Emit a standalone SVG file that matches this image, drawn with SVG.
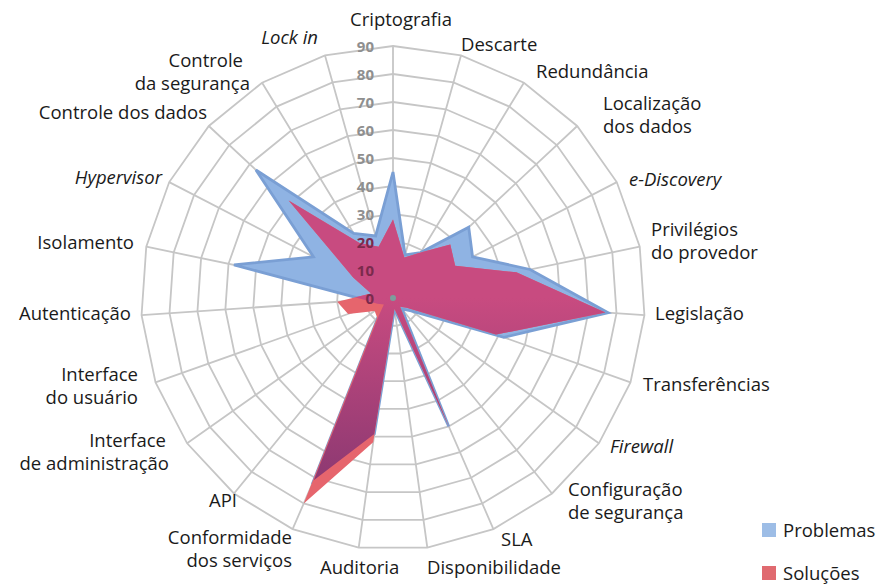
<svg xmlns="http://www.w3.org/2000/svg" xmlns:xlink="http://www.w3.org/1999/xlink" width="895" height="585" viewBox="0 0 895 585">
<style>
.lbl{font-family:"Open Sans","Noto Sans","Liberation Sans",sans-serif;font-size:18.5px;fill:#1a1a1a}
.it{font-style:italic}
.e{text-anchor:end}
.m{text-anchor:middle}
.tick{font-family:"Open Sans","Liberation Sans",sans-serif;font-size:15px;font-weight:bold;fill:#8f8f8f;text-anchor:end}
.tick.in{fill:#7a2a4c}
.grid{fill:none;stroke:#c6c6c6;stroke-width:1.8;vector-effect:non-scaling-stroke}
</style>
<defs>
<polygon id="ring" class="grid" points="0,-1 0.2698,-0.9629 0.5196,-0.8544 0.7308,-0.6826 0.8879,-0.4601 0.9791,-0.2035 0.9977,0.0682 0.9423,0.3349 0.8170,0.5767 0.6311,0.7757 0.3984,0.9172 0.1362,0.9907 -0.1362,0.9907 -0.3984,0.9172 -0.6311,0.7757 -0.8170,0.5767 -0.9423,0.3349 -0.9977,0.0682 -0.9791,-0.2035 -0.8879,-0.4601 -0.7308,-0.6826 -0.5196,-0.8544 -0.2698,-0.9629"/>
<polygon id="blueShape" points="0,-45 4.32,-15.41 9.87,-16.23 27.04,-25.26 28.41,-14.72 48.96,-10.18 76.82,5.25 39.58,14.07 6.54,4.61 3.16,3.88 19.92,45.86 0.54,3.96 -6.67,48.54 -28.29,65.12 -5.05,6.21 -3.27,2.31 -5.65,2.01 -9.98,0.68 -56.79,-11.80 -28.41,-14.72 -48.96,-45.73 -14.03,-23.07 -6.21,-22.15"/>
<polygon id="redShape" points="0,-28 4.05,-14.44 9.87,-16.23 20.46,-19.11 22.20,-11.50 44.06,-9.16 75.83,5.18 36.75,13.06 4.90,3.46 2.52,3.10 20.32,46.78 0.54,3.96 -7.08,51.52 -31.87,73.38 -5.68,6.98 -6.54,4.61 -16.02,5.69 -19.95,1.36 -7.83,-1.63 -14.21,-7.36 -37.27,-34.81 -11.95,-19.65 -5.13,-18.30"/>
<clipPath id="clipBlue"><use xlink:href="#blueShape"/></clipPath>
<linearGradient id="overlap" gradientUnits="userSpaceOnUse" x1="0" y1="0" x2="0" y2="75">
<stop offset="0" stop-color="#c84b80"/>
<stop offset="1" stop-color="#843670"/>
</linearGradient>
</defs>

<g id="grid">
<use xlink:href="#ring" transform="translate(393 298) scale(28)"/>
<use xlink:href="#ring" transform="translate(393 298) scale(56)"/>
<use xlink:href="#ring" transform="translate(393 298) scale(84)"/>
<use xlink:href="#ring" transform="translate(393 298) scale(112)"/>
<use xlink:href="#ring" transform="translate(393 298) scale(140)"/>
<use xlink:href="#ring" transform="translate(393 298) scale(168)"/>
<use xlink:href="#ring" transform="translate(393 298) scale(196)"/>
<use xlink:href="#ring" transform="translate(393 298) scale(224)"/>
<use xlink:href="#ring" transform="translate(393 298) scale(252)"/>
<path transform="translate(393 298)" fill="none" stroke="#c6c6c6" stroke-width="1.8" d="M0,0L0,-252M0,0L68,-242.6M0,0L130.9,-215.3M0,0L184.2,-172M0,0L223.8,-115.9M0,0L246.7,-51.3M0,0L251.4,17.2M0,0L237.5,84.4M0,0L205.9,145.3M0,0L159,195.5M0,0L100.4,231.1M0,0L34.3,249.7M0,0L-34.3,249.7M0,0L-100.4,231.1M0,0L-159,195.5M0,0L-205.9,145.3M0,0L-237.5,84.4M0,0L-251.4,17.2M0,0L-246.7,-51.3M0,0L-223.8,-115.9M0,0L-184.2,-172M0,0L-130.9,-215.3M0,0L-68,-242.6"/>
</g>

<g id="ticks-back">
<text class="tick" x="374" y="52">90</text>
<text class="tick" x="374" y="80">80</text>
<text class="tick" x="374" y="108">70</text>
<text class="tick" x="374" y="136">60</text>
<text class="tick" x="374" y="164">50</text>
<text class="tick" x="374" y="192">40</text>
<text class="tick" x="374" y="220">30</text>
</g>

<g id="series" transform="translate(393 298) scale(2.8)">
<use id="problemas" xlink:href="#blueShape" fill="#8fb3e3" stroke="#7a9fd4" stroke-width="1" style="vector-effect:non-scaling-stroke"/>
<use id="solucoes" xlink:href="#redShape" fill="#e6656d"/>
<use id="overlap-area" xlink:href="#redShape" fill="url(#overlap)" clip-path="url(#clipBlue)"/>
</g>

<g id="ticks-front">
<text class="tick in" x="374" y="248">20</text>
<text class="tick in" x="374" y="276">10</text>
<text class="tick in" x="374" y="304">0</text>
<circle cx="393" cy="298" r="3" fill="#7c9e9c"/>
</g>

<g id="labels">
<text class="lbl m" x="401" y="26">Criptografia</text>
<text class="lbl it e" x="318" y="44">Lock in</text>
<text class="lbl" x="461" y="51">Descarte</text>
<text class="lbl" x="536" y="78">Redundância</text>
<text class="lbl" x="603" y="110">Localização</text>
<text class="lbl" x="603" y="133">dos dados</text>
<text class="lbl it" x="629" y="186">e-Discovery</text>
<text class="lbl" x="651" y="236">Privilégios</text>
<text class="lbl" x="651" y="259">do provedor</text>
<text class="lbl" x="655" y="320">Legislação</text>
<text class="lbl" x="643" y="391">Transferências</text>
<text class="lbl it" x="610" y="453">Firewall</text>
<text class="lbl" x="568" y="496">Configuração</text>
<text class="lbl" x="568" y="519">de segurança</text>
<text class="lbl" x="501" y="546">SLA</text>
<text class="lbl" x="427" y="574">Disponibilidade</text>
<text class="lbl" x="320" y="574">Auditoria</text>
<text class="lbl e" x="292" y="544">Conformidade</text>
<text class="lbl e" x="292" y="567">dos serviços</text>
<text class="lbl e" x="237" y="507">API</text>
<text class="lbl e" x="166" y="447">Interface</text>
<text class="lbl e" x="169" y="470">de administração</text>
<text class="lbl e" x="138" y="381">Interface</text>
<text class="lbl e" x="138" y="404">do usuário</text>
<text class="lbl e" x="131" y="320">Autenticação</text>
<text class="lbl e" x="134" y="249">Isolamento</text>
<text class="lbl it e" x="162" y="184">Hypervisor</text>
<text class="lbl e" x="207" y="119">Controle dos dados</text>
<text class="lbl e" x="243" y="67">Controle</text>
<text class="lbl e" x="250" y="90">da segurança</text>
</g>

<g id="legend">
<rect x="762" y="523" width="14" height="14" fill="#9dbde6"/>
<text class="lbl" x="783" y="537">Problemas</text>
<rect x="762" y="566" width="14" height="14" fill="#e06a70"/>
<text class="lbl" x="783" y="580">Soluções</text>
</g>
</svg>
